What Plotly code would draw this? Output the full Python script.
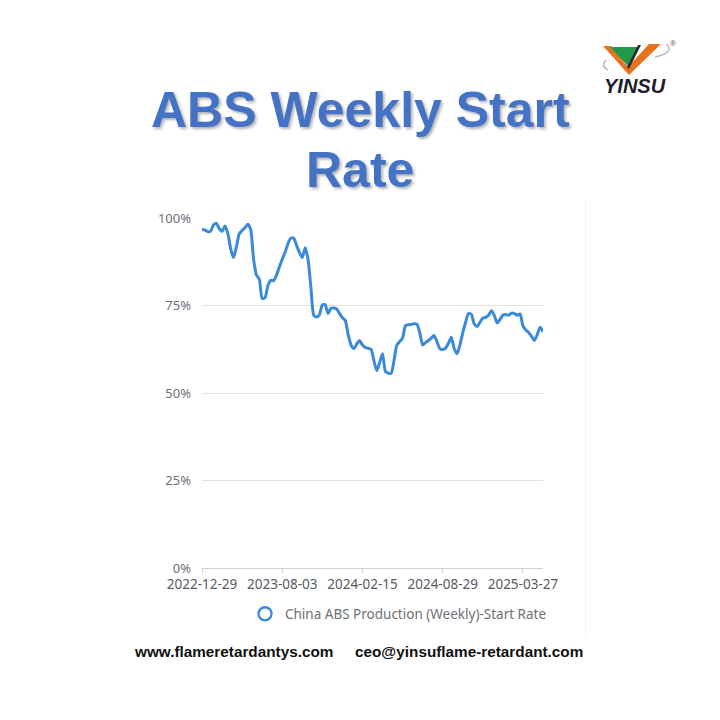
import plotly.graph_objects as go

# ---------------- data ----------------
weeks = [
    "2022-12-29", "2023-01-05", "2023-01-12", "2023-01-19", "2023-02-09", "2023-02-16",
    "2023-02-23", "2023-03-02", "2023-03-09", "2023-03-16", "2023-03-23", "2023-03-30",
    "2023-04-06", "2023-04-13", "2023-04-20", "2023-04-27", "2023-05-11", "2023-05-18",
    "2023-05-25", "2023-06-01", "2023-06-08", "2023-06-15", "2023-06-22", "2023-06-29",
    "2023-07-06", "2023-07-13", "2023-07-20", "2023-07-27", "2023-08-03", "2023-08-10",
    "2023-08-17", "2023-08-24", "2023-08-31", "2023-09-07", "2023-09-14", "2023-09-21",
    "2023-09-28", "2023-10-05", "2023-10-12", "2023-10-19", "2023-10-26", "2023-11-02",
    "2023-11-09", "2023-11-16", "2023-11-23", "2023-11-30", "2023-12-07", "2023-12-14",
    "2023-12-21", "2023-12-28", "2024-01-04", "2024-01-11", "2024-01-18", "2024-01-25",
    "2024-02-01", "2024-02-08", "2024-02-15", "2024-02-22", "2024-02-29", "2024-03-07",
    "2024-03-14", "2024-03-21", "2024-03-28", "2024-04-04", "2024-04-11", "2024-04-18",
    "2024-04-25", "2024-05-02", "2024-05-09", "2024-05-16", "2024-05-23", "2024-05-30",
    "2024-06-06", "2024-06-13", "2024-06-20", "2024-06-27", "2024-07-04", "2024-07-11",
    "2024-07-18", "2024-07-25", "2024-08-01", "2024-08-08", "2024-08-15", "2024-08-22",
    "2024-08-29", "2024-09-05", "2024-09-12", "2024-09-19", "2024-09-26", "2024-10-10",
    "2024-10-17", "2024-10-24", "2024-10-31", "2024-11-07", "2024-11-14", "2024-11-21",
    "2024-11-28", "2024-12-05", "2024-12-12", "2024-12-19", "2024-12-26", "2025-01-02",
    "2025-01-09", "2025-01-16", "2025-01-23", "2025-02-06", "2025-02-13", "2025-02-20",
    "2025-02-27", "2025-03-06", "2025-03-13", "2025-03-20", "2025-03-27", "2025-04-03",
    "2025-04-10", "2025-04-17", "2025-04-24", "2025-05-01", "2025-05-08", "2025-05-15",
]

start_rate = [
    96.7, 96.6, 96.1, 96.2, 98.0, 98.5, 97.0, 96.2, 97.7, 95.7,
    91.2, 88.7, 91.7, 95.5, 96.4, 97.2, 98.2, 96.7, 88.2, 83.7,
    82.5, 77.0, 77.2, 80.7, 82.2, 82.1, 83.7, 86.0, 88.2, 90.2,
    92.7, 94.2, 94.2, 92.2, 90.2, 88.7, 91.5, 88.2, 80.2, 72.2,
    71.7, 72.4, 75.2, 75.2, 72.7, 74.2, 74.3, 74.0, 72.7, 71.5,
    70.7, 66.7, 63.7, 62.7, 64.0, 65.0, 63.7, 63.0, 62.8, 62.5,
    59.2, 56.4, 58.7, 61.2, 56.2, 55.7, 55.6, 59.2, 63.7, 64.7,
    65.7, 69.2, 69.5, 69.6, 69.8, 69.7, 67.2, 63.7, 64.4, 65.0,
    65.7, 66.4, 64.7, 62.7, 62.4, 62.8, 64.2, 65.9, 62.7, 61.2,
    63.7, 67.2, 70.2, 72.7, 72.5, 69.7, 69.0, 70.2, 71.4, 71.6,
    72.2, 73.5, 72.2, 70.0, 71.0, 72.2, 72.4, 72.2, 72.8, 72.7,
    72.2, 72.6, 69.2, 68.0, 67.3, 66.2, 65.0, 66.7, 68.8, 67.5,
]

tick_labels = ["2022-12-29", "2023-08-03", "2024-02-15", "2024-08-29", "2025-03-27"]
y_ticks = [0, 25, 50, 75, 100]
y_tick_text = ["0%", "25%", "50%", "75%", "100%"]
series_name = "China ABS Production (Weekly)-Start Rate"

# ---------------- layout helpers ----------------
OFF = 8  # page body margin
L, R, T, B = 202, 543, 218, 568
W = R - L
H = B - T


def px(x, y):
    return (x - L) / W, (B - y) / H


def path(points):
    s = ""
    for i, (x, y) in enumerate(points):
        u, v = px(x, y)
        s += ("M" if i == 0 else "L") + f"{u:.4f},{v:.4f} "
    return s + "Z"


def qcurve(p0, c, p1):
    return "M{:.4f},{:.4f} Q{:.4f},{:.4f} {:.4f},{:.4f}".format(*px(*p0), *px(*c), *px(*p1))


LINE_COLOR = "#3a8ad9"

fig = go.Figure()
fig.add_trace(go.Scatter(
    x=weeks, y=start_rate, mode="lines",
    line=dict(color=LINE_COLOR, width=3, shape="spline", smoothing=0.6),
    showlegend=False, hoverinfo="x+y",
))
fig.add_trace(go.Scatter(
    x=[None], y=[None], mode="markers", name=series_name,
    marker=dict(symbol="circle-open", size=13, color=LINE_COLOR, line=dict(width=2.4)),
    showlegend=True,
))

shapes = []
# faint border line at right of chart screenshot
u0, v0 = px(585.5, 200)
u1, v1 = px(585.5, 637)
shapes.append(dict(type="line", xref="paper", yref="paper", x0=u0, y0=v0, x1=u1, y1=v1,
                   line=dict(color="#f0f0f0", width=1)))
# logo: orange V
shapes.append(dict(type="path", xref="paper", yref="paper",
                   path=path([(603, 46), (611, 46), (628, 67), (649, 44), (661, 44), (629, 75)]),
                   fillcolor="#e8731f", line=dict(width=0)))
# logo: green triangle
shapes.append(dict(type="path", xref="paper", yref="paper",
                   path=path([(610, 47), (638, 47), (628, 66)]),
                   fillcolor="#1f9a4a", line=dict(width=0)))
# logo: dark separator
shapes.append(dict(type="path", xref="paper", yref="paper",
                   path=path([(638, 45), (641, 45), (629, 69), (627, 67)]),
                   fillcolor="#2b2b2b", line=dict(width=0)))
# logo swooshes
shapes.append(dict(type="path", xref="paper", yref="paper",
                   path=qcurve((608, 70), (600, 66), (606, 60)),
                   line=dict(color="#b9b9b9", width=1.4)))
shapes.append(dict(type="path", xref="paper", yref="paper",
                   path=qcurve((655, 57), (676, 52), (666, 44)),
                   line=dict(color="#b9b9b9", width=1.4)))

annotations = []
title_font = dict(family="Liberation Sans, Arial, sans-serif", size=50, color="#4472c4",
                  weight="bold", shadow="2px 2px 3px rgba(0,0,0,0.30)")
for text, cy in [("ABS Weekly Start", 110), ("Rate", 170)]:
    u, v = px(360, cy)
    annotations.append(dict(text=text, x=u, y=v, xref="paper", yref="paper",
                            xanchor="center", yanchor="middle", showarrow=False,
                            font=title_font))
u, v = px(635, 86)
annotations.append(dict(text="<i><b>YINSU</b></i>", x=u, y=v, xref="paper", yref="paper",
                        xanchor="center", yanchor="middle", showarrow=False,
                        font=dict(family="Liberation Sans, Arial, sans-serif", size=20, color="#1d1d2b")))
u, v = px(673, 43)
annotations.append(dict(text="®", x=u, y=v, xref="paper", yref="paper",
                        xanchor="center", yanchor="middle", showarrow=False,
                        font=dict(family="Liberation Sans, Arial, sans-serif", size=8, color="#555")))
for text, cx in [("www.flameretardantys.com", 233), ("ceo@yinsuflame-retardant.com", 469)]:
    u, v = px(cx, 651)
    annotations.append(dict(text=text, x=u, y=v, xref="paper", yref="paper",
                            xanchor="center", yanchor="middle", showarrow=False,
                            font=dict(family="Liberation Sans, Arial, sans-serif", size=15.3,
                                      color="#111", weight="bold")))

lu, lv = px(245, 614)
fig.update_layout(
    width=720, height=720,
    margin=dict(l=L - OFF, r=720 - R + OFF, t=T - OFF, b=720 - B + OFF),
    paper_bgcolor="white", plot_bgcolor="white",
    font=dict(family="Noto Sans, Liberation Sans, sans-serif", color="#6e7079"),
    xaxis=dict(type="category", range=[0, len(weeks) - 1], tickmode="array",
               tickvals=tick_labels, ticktext=tick_labels, showgrid=False,
               showline=True, linecolor="#d0d0d0", linewidth=1,
               ticks="outside", ticklen=4, tickcolor="#d0d0d0",
               tickfont=dict(size=13.5, color="#555a63")),
    yaxis=dict(range=[0, 100], tickvals=y_ticks, ticktext=y_tick_text,
               showgrid=True, gridcolor="#e3e3e3", gridwidth=1, zeroline=False,
               showline=False, ticks="", ticklabelstandoff=10,
               tickfont=dict(size=13, color="#6e7079")),
    showlegend=True,
    legend=dict(x=lu, y=lv, xanchor="left", yanchor="middle", orientation="h",
                font=dict(size=13.5, color="#6e7079"), bgcolor="rgba(0,0,0,0)"),
    shapes=shapes, annotations=annotations,
)

fig.write_html("out.html")
